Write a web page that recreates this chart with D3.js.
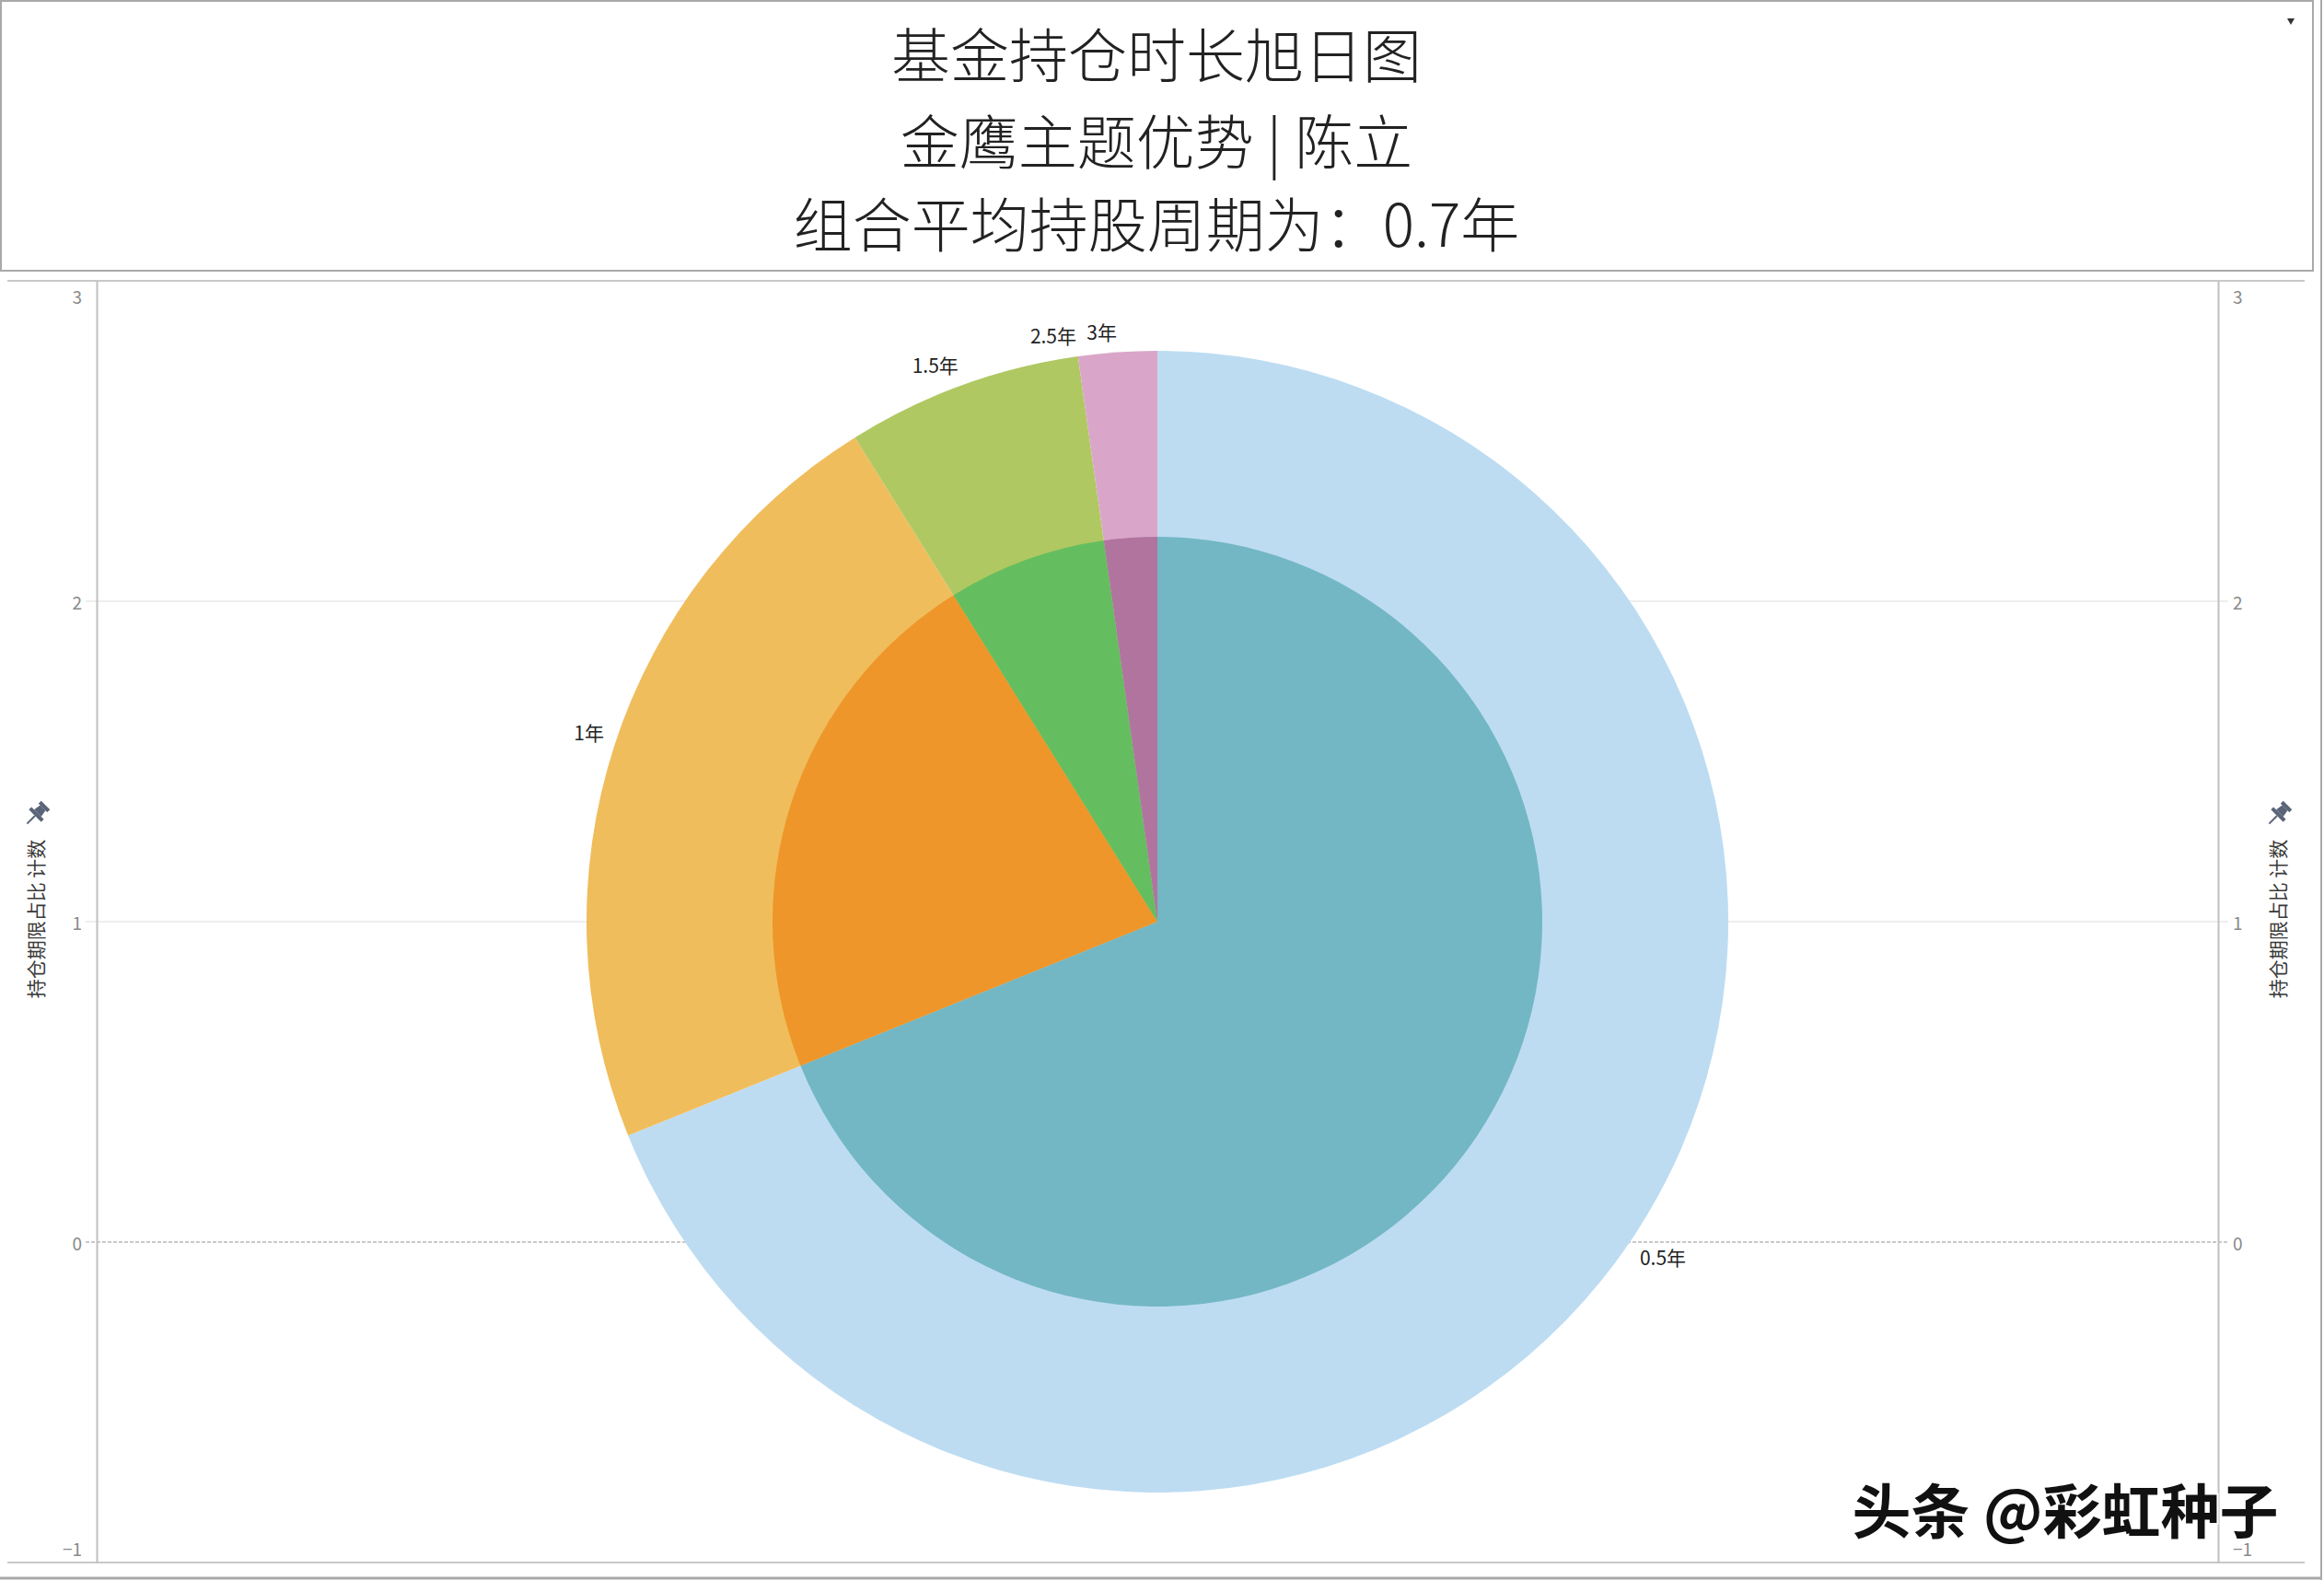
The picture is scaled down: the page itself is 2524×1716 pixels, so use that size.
<!DOCTYPE html>
<html>
<head>
<meta charset="utf-8">
<script src="https://cdn.jsdelivr.net/npm/d3@7"></script>
<style>
  html, body { margin: 0; padding: 0; background: #ffffff; }
  svg { display: block; }
</style>
</head>
<body>
<script>
// ---------------- data ----------------
const titleLines = ["基金持仓时长旭日图", "金鹰主题优势 | 陈立", "组合平均持股周期为：0.7年"];
const categories = ["0.5年", "1年", "1.5年", "2.5年", "3年"];
const counts = [31, 10, 3, 0, 1];
const outerColors = ["#bddcf2", "#f0bd5c", "#b0c862", "#d9a6c9", "#d9a6c9"];
const innerColors = ["#73b7c4", "#ee962a", "#64be5f", "#b0749f", "#b0749f"];
const yTicks = [3, 2, 1, 0, -1];
const yDomain = [-1, 3];
const axisTitle = "持仓期限占比 计数";
const watermark = "头条 @彩虹种子";

// ---------------- layout ----------------
const W = 2524, H = 1716;
const FONT = "'Noto Sans CJK SC', 'Noto Sans', sans-serif";
const plotLeft = 105, plotRight = 2409, plotTop = 305, plotBottom = 1697;
const rOuter = 620, rInner = 418;

const svg = d3.select("body").append("svg")
  .attr("width", W).attr("height", H)
  .attr("font-family", FONT);

// Title box
svg.append("rect").attr("x", 1).attr("y", 1).attr("width", 2511).attr("height", 293)
  .attr("fill", "#fff").attr("stroke", "#a9a9a9").attr("stroke-width", 2);
const titleY = [56, 150, 240];
svg.selectAll("text.title").data(titleLines).join("text")
  .attr("class", "title")
  .attr("x", 1256).attr("y", (d, i) => titleY[i])
  .attr("text-anchor", "middle").attr("dominant-baseline", "central")
  .attr("font-size", 64).attr("font-weight", 300).attr("fill", "#222")
  .text(d => d);
// small dropdown marker
svg.append("path").attr("d", "M2484,20 L2492,20 L2488,27 Z").attr("fill", "#333");

// Outer borders (dashboard)
svg.append("line").attr("x1", 2521).attr("x2", 2521).attr("y1", 0).attr("y2", H)
  .attr("stroke", "#a9a9a9").attr("stroke-width", 2);
svg.append("line").attr("x1", 0).attr("x2", 2522).attr("y1", 1714).attr("y2", 1714)
  .attr("stroke", "#a9a9a9").attr("stroke-width", 3);

// Plot panel borders
svg.append("line").attr("x1", 8).attr("x2", 2503).attr("y1", plotTop).attr("y2", plotTop)
  .attr("stroke", "#c8c8c8").attr("stroke-width", 2);
svg.append("line").attr("x1", 8).attr("x2", 2503).attr("y1", plotBottom).attr("y2", plotBottom)
  .attr("stroke", "#c8c8c8").attr("stroke-width", 2);

const y = d3.scaleLinear().domain(yDomain).range([plotBottom, plotTop]);

// gridlines
const grid = svg.append("g");
grid.selectAll("line.g").data(yTicks.filter(t => t !== 0 && t !== 3 && t !== -1)).join("line")
  .attr("x1", plotLeft - 12).attr("x2", plotRight + 11)
  .attr("y1", d => y(d)).attr("y2", d => y(d))
  .attr("stroke", "#e8e8e8").attr("stroke-width", 1.5);
// zero line (dashed)
grid.append("line")
  .attr("x1", plotLeft - 12).attr("x2", plotRight + 11)
  .attr("y1", y(0)).attr("y2", y(0))
  .attr("stroke", "#b8b8b8").attr("stroke-width", 1.5).attr("stroke-dasharray", "4,2");

// axes
const leftAxis = d3.axisLeft(y).tickValues(yTicks).tickSize(0).tickPadding(16).tickFormat(d3.format("d"));
const rightAxis = d3.axisRight(y).tickValues(yTicks).tickSize(0).tickPadding(16).tickFormat(d3.format("d"));
function styleAxis(g) {
  g.select(".domain").attr("stroke", "#c0c0c0").attr("stroke-width", 2);
  g.selectAll(".tick text").attr("font-family", FONT).attr("font-size", 19).attr("fill", "#8a8a8a")
    .attr("dy", null).attr("dominant-baseline", "central")
    .attr("y", d => {
      const p = y(d);
      if (p < plotTop + 16) return plotTop + 16 - p;
      if (p > plotBottom - 16) return plotBottom - 16 - p;
      return 0;
    });
}
svg.append("g").attr("transform", `translate(${plotLeft},0)`).call(leftAxis).call(styleAxis);
svg.append("g").attr("transform", `translate(${plotRight},0)`).call(rightAxis).call(styleAxis);

// axis titles with pin icons
function axisTitleAt(x) {
  svg.append("text")
    .attr("transform", `translate(${x},${998}) rotate(-90)`)
    .attr("text-anchor", "middle").attr("dominant-baseline", "central")
    .attr("font-size", 21).attr("fill", "#3a3a3a")
    .text(axisTitle);
  const pin = svg.append("g").attr("transform", `translate(${x},${886}) rotate(45) scale(1.35)`).attr("fill", "#5b6579");
  pin.append("rect").attr("x", -5).attr("y", -12).attr("width", 10).attr("height", 3);
  pin.append("path").attr("d", "M-3,-9 L3,-9 L4,-3 L-4,-3 Z");
  pin.append("rect").attr("x", -7).attr("y", -3).attr("width", 14).attr("height", 3);
  pin.append("line").attr("x1", 0).attr("x2", 0).attr("y1", 0).attr("y2", 9)
    .attr("stroke", "#5b6579").attr("stroke-width", 1.5);
}
axisTitleAt(38);
axisTitleAt(2473);

// ---------------- pie ----------------
const cx = (plotLeft + plotRight) / 2;
const cy = y(1);
const rows = categories.map((c, i) => ({ cat: c, value: counts[i], outer: outerColors[i], inner: innerColors[i] }));
const pie = d3.pie().sort(null).value(d => d.value);
const arcs = pie(rows);

const pg = svg.append("g").attr("transform", `translate(${cx},${cy})`);
const outerArc = d3.arc().innerRadius(0).outerRadius(rOuter);
const innerArc = d3.arc().innerRadius(0).outerRadius(rInner);
pg.selectAll("path.outer").data(arcs.filter(d => d.value > 0)).join("path")
  .attr("class", "outer").attr("d", outerArc).attr("fill", d => d.data.outer);
pg.selectAll("path.inner").data(arcs.filter(d => d.value > 0)).join("path")
  .attr("class", "inner").attr("d", innerArc).attr("fill", d => d.data.inner);

// labels: the label box corner nearest the centre sits on a circle just outside the pie
const labelR = 632;
const lg = svg.append("g");
const labels = arcs.map(d => {
  const a = (d.startAngle + d.endAngle) / 2;
  const t = lg.append("text").attr("font-size", 21).attr("fill", "#222")
    .attr("text-anchor", "middle").attr("dominant-baseline", "central").text(d.data.cat);
  const w = t.node().getComputedTextLength();
  const h = 22;
  const px = cx + labelR * Math.sin(a), py = cy - labelR * Math.cos(a);
  const sx = Math.sin(a) >= 0 ? 1 : -1;
  const sy = Math.cos(a) >= 0 ? -1 : 1;
  return { t, w, h, x: px + sx * w / 2, y: py + sy * h / 2 };
});
// simple overlap resolution, from last to first: shift left
const placed = [];
for (let i = labels.length - 1; i >= 0; i--) {
  const L = labels[i];
  for (const P of placed) {
    const overlapY = Math.abs(L.y - P.y) < (L.h + P.h) / 2;
    const overlapX = Math.abs(L.x - P.x) < (L.w + P.w) / 2 + 8;
    if (overlapY && overlapX) {
      L.x = P.x - (P.w / 2) - 10 - (L.w / 2);
    }
  }
  placed.push(L);
}
labels.forEach(L => L.t.attr("x", L.x).attr("y", L.y));

// watermark
svg.append("text")
  .attr("x", 2243).attr("y", 1637)
  .attr("text-anchor", "middle").attr("dominant-baseline", "central")
  .attr("font-size", 64).attr("font-weight", 700).attr("fill", "#111")
  .attr("stroke", "#fff").attr("stroke-width", 4).attr("paint-order", "stroke")
  .text(watermark);
</script>
</body>
</html>
